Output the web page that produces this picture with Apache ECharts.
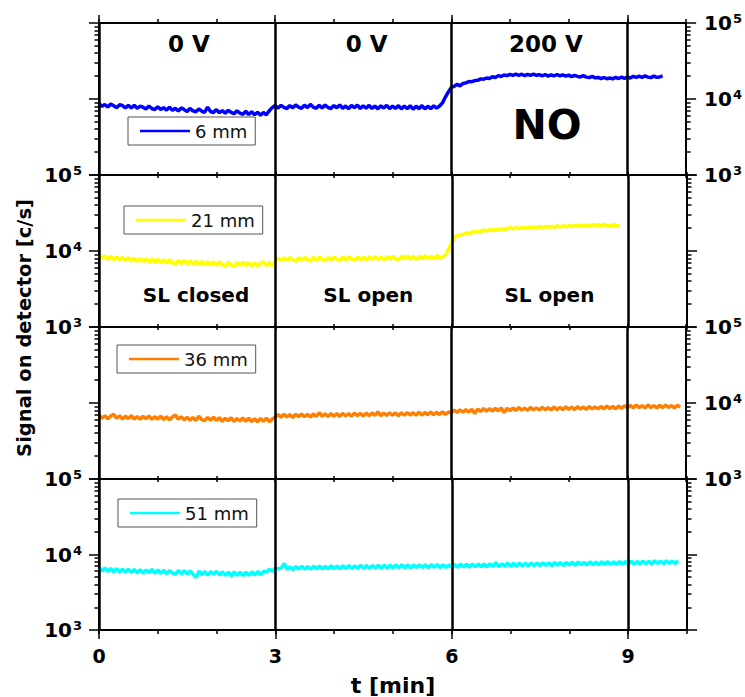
<!DOCTYPE html>
<html>
<head>
<meta charset="utf-8">
<script src="https://cdn.jsdelivr.net/npm/echarts@6/dist/echarts.min.js"></script>
<style>
  html, body { margin: 0; padding: 0; background: #fff; }
  #chart { width: 745px; height: 697px; }
</style>
</head>
<body>
<div id="chart"></div>
<script>
// Detector signal [c/s] sampled every 0.05 min, one trace per distance
const sampleStep = 0.05;

const seriesNames = ['6 mm', '21 mm', '36 mm', '51 mm'];

const signal6mm = [
  8700, 8000, 8450, 7850, 8600, 8150, 7700, 8400, 8200, 7650,
  8250, 7600, 8300, 7550, 8050, 7800, 7350, 8100, 7500, 7250,
  7900, 7300, 7700, 7150, 7800, 7100, 7550, 6950, 7650, 7250,
  6850, 7500, 7000, 6800, 7400, 6900, 6700, 7800, 6850, 6650,
  7250, 6600, 7050, 6500, 7100, 6650, 6400, 7000, 6500, 6300,
  6900, 6250, 6800, 6200, 6700, 6100, 6650, 6200, 7000, 7700,
  8200, 7600, 8250, 7750, 7500, 8200, 7650, 8350, 7800, 7550,
  8300, 7700, 8500, 7800, 7550, 8250, 7650, 8300, 7750, 7500,
  8200, 7650, 8350, 7550, 8100, 7450, 8200, 7700, 8300, 7500,
  8150, 7550, 8250, 7500, 8100, 7400, 8150, 7600, 8250, 7450,
  8100, 7500, 8200, 7400, 8100, 7450, 8150, 7350, 8050, 7450,
  8200, 7400, 8050, 7450, 8150, 7600, 8100, 8900, 10600, 12400,
  14200, 14700, 15600, 14900, 16000, 16300, 17000, 16900, 17500, 17600,
  18400, 18200, 18900, 18600, 19600, 19200, 20300, 19800, 20700, 20300,
  21100, 20400, 21300, 20500, 21200, 20300, 21100, 20400, 21300, 20500,
  20900, 20200, 21000, 20000, 20800, 20100, 21000, 20200, 20700, 20000,
  20600, 19700, 20500, 19800, 19500, 20300, 19400, 19100, 19800, 19000,
  19200, 18600, 19100, 18500, 18900, 18400, 19300, 18600, 19400, 18700,
  19400, 18900, 19900, 19200, 20000, 19300, 20100, 19400, 19100, 20000,
  19300, 19500, 20100
];

const signal21mm = [
  8900, 8100, 8600, 7800, 8500, 7700, 8350, 7650, 8250, 7500,
  8150, 7400, 8000, 7300, 8000, 7250, 7900, 7150, 7850, 7100,
  7800, 7050, 7700, 6900, 7650, 7000, 6700, 7550, 6850, 7500,
  6750, 7400, 6650, 7350, 6600, 7300, 6550, 7250, 6500, 7200,
  6450, 7200, 6550, 6350, 7150, 6500, 6300, 7100, 6450, 7150,
  6400, 7050, 6350, 7000, 6300, 6950, 7200, 6400, 7050, 6350,
  7400, 8100, 7450, 8150, 7500, 8200, 7550, 7400, 8150, 7500,
  8250, 7600, 7450, 8200, 7550, 8300, 7650, 7500, 8250, 7600,
  8350, 7700, 7500, 8300, 7650, 8400, 7750, 7550, 8350, 7700,
  8250, 7600, 8400, 7750, 8500, 7700, 8350, 7650, 8450, 7800,
  8500, 7850, 7700, 8550, 7900, 8600, 7800, 8450, 7750, 8550,
  7900, 8650, 7950, 8500, 7850, 8700, 8000, 8450, 9000, 10800,
  12900, 15200, 16000, 16300, 16600, 17500, 16900, 17900, 17800, 18100,
  18200, 18900, 18300, 19200, 18600, 19500, 18900, 19700, 19100, 19900,
  20200, 19500, 20400, 19700, 20500, 19900, 20700, 20000, 20800, 20200,
  21000, 20300, 21100, 20400, 21200, 20500, 21400, 20700, 21500, 20800,
  21700, 21000, 21800, 21100, 22000, 21200, 22100, 21400, 22300, 21500,
  22200, 21400, 22400, 21600, 21300, 22200, 21500, 21300
];

const signal36mm = [
  6900, 6300, 6800, 6200, 6750, 7100, 6300, 6800, 6150, 6700,
  6250, 6800, 6150, 6650, 6100, 6700, 6200, 6750, 6100, 6600,
  6150, 6700, 6050, 6600, 6000, 6550, 6950, 6100, 6600, 6000,
  6500, 5950, 6450, 5900, 6700, 6050, 5850, 6450, 5950, 6500,
  5900, 6400, 5750, 6300, 5850, 6400, 5700, 6250, 5800, 6350,
  5750, 6300, 5700, 6200, 5650, 6250, 5750, 6300, 5700, 6150,
  6500, 7050, 6500, 7100, 6550, 7050, 6450, 7100, 6600, 7150,
  6600, 7100, 6550, 7200, 6650, 7450, 6700, 7200, 6650, 7250,
  6700, 7250, 6650, 7300, 6750, 7250, 6700, 7350, 6800, 7300,
  6750, 7350, 6800, 7400, 6850, 7650, 6800, 7350, 6850, 7450,
  6900, 7400, 6800, 7450, 6900, 7500, 6950, 7450, 6900, 7550,
  6950, 7500, 7000, 7600, 7000, 7550, 7050, 7650, 7100, 7600,
  7450, 8050, 7500, 8150, 7550, 8200, 7600, 8250, 7300, 8300,
  7750, 8450, 7800, 8400, 7850, 8500, 7900, 8600, 7500, 8500,
  7950, 8600, 8000, 8700, 8050, 8550, 8000, 8750, 8100, 8650,
  8100, 8750, 8150, 8700, 8100, 8850, 8200, 8750, 8150, 8900,
  8250, 8800, 8200, 8950, 8300, 8850, 8250, 9000, 8350, 8900,
  8350, 9000, 8400, 9100, 8450, 9000, 8400, 9150, 8500, 9200,
  8600, 9300, 8650, 9400, 8700, 9200, 8600, 9450, 8700, 9250,
  8650, 9300, 8700, 9400, 8750, 9250, 8650, 9300, 8850
];

const signal51mm = [
  6700, 6050, 6650, 5950, 6550, 5900, 6500, 5850, 6450, 5800,
  6400, 5750, 6350, 5700, 6300, 5650, 6250, 5750, 6350, 5650,
  6250, 5600, 6200, 5550, 6150, 5650, 5500, 6150, 5550, 6100,
  5500, 6050, 5450, 4950, 6000, 5400, 5950, 5350, 5950, 5450,
  6000, 5350, 5900, 5300, 5850, 5200, 5900, 5300, 5850, 5250,
  5850, 5300, 5900, 5350, 5950, 5400, 6000, 5900, 6350, 6000,
  6600, 6450, 6650, 7600, 6350, 6900, 6300, 6950, 6400, 7000,
  6400, 6950, 6350, 7000, 6450, 7050, 6400, 7000, 6450, 7100,
  6500, 7050, 6450, 7100, 6550, 7150, 6500, 7100, 6550, 7200,
  6550, 7150, 6500, 7150, 6600, 7200, 6550, 7250, 6600, 7200,
  6600, 7250, 6650, 7300, 6650, 7250, 6600, 7300, 6700, 7350,
  6700, 7300, 6650, 7350, 6750, 7400, 6700, 7300, 6750, 7250,
  6800, 7400, 6750, 7450, 6850, 7400, 6800, 7500, 6900, 7450,
  6900, 7500, 6850, 7550, 6950, 7800, 6900, 7550, 7000, 7700,
  6950, 7650, 7000, 7700, 7050, 7650, 7000, 7750, 7100, 7700,
  7100, 7750, 7150, 7800, 7100, 7850, 7200, 7800, 7150, 7850,
  7250, 7900, 7200, 7950, 7300, 7900, 7250, 8000, 7350, 7950,
  7300, 8000, 7400, 8050, 7350, 8000, 7400, 8100, 7450, 8050,
  7500, 8150, 7450, 8100, 7500, 8200, 7550, 8150, 7500, 8250,
  7600, 8200, 7550, 8250, 7650, 8150, 7600, 8300
];

const signals = [signal6mm, signal21mm, signal36mm, signal51mm];

// Axis ticks
const xMajorTicks = [0, 3, 6, 9];
const yMajorTicks = [1e3, 1e4, 1e5];
const yMinorTicks = [2e3, 3e3, 4e3, 5e3, 6e3, 7e3, 8e3, 9e3, 2e4, 3e4, 4e4, 5e4, 6e4, 7e4, 8e4, 9e4];

// Panel annotations: panel, time (min), signal (c/s), text
const annotationPanels = [0, 0, 0, 0, 1, 1, 1];
const annotationTimes = [1.53, 4.56, 7.61, 7.63, 1.65, 4.58, 7.66];
const annotationValues = [53500, 53500, 53500, 4600, 2660, 2660, 2660];
const annotationTexts = ['0 V', '0 V', '200 V', 'NO', 'SL closed', 'SL open', 'SL open'];

// ---- styling / layout ----
const FONT = "'DejaVu Sans', 'Liberation Sans', sans-serif";
const colors = ['#0000ff', '#ffff00', '#ff8000', '#00ffff'];
const annotationSizes = [23, 23, 23, 41, 20, 20, 20];
const panelTop = 23, panelH = 152, gridLeft = 99, gridRight = 58;
const labelsLeft = [false, true, false, true];
const labelsRight = [true, false, true, false];
const legendPos = [[128, 117], [124, 206], [117, 345], [118, 499]];

const black = '#000';
const tickLine = { color: black, width: 1.5 };

function powLabel(v) {
  return '{b|10}{s|' + Math.round(Math.log10(v)) + '}';
}
const powRich = {
  b: { fontFamily: FONT, fontWeight: 'bold', fontSize: 20, color: black, lineHeight: 22 },
  s: { fontFamily: FONT, fontWeight: 'bold', fontSize: 13, color: black, lineHeight: 22, verticalAlign: 'top', padding: [0, 0, 6, 1] }
};

const grids = [], xAxes = [], yAxes = [], series = [], legends = [];

for (let i = 0; i < 4; i++) {
  grids.push({ left: gridLeft, right: gridRight, top: panelTop + i * panelH, height: panelH });

  const xBase = { type: 'value', gridIndex: i, min: 0, max: 10, splitLine: { show: false }, axisLabel: { show: false } };
  // minor ticks every minute, bottom and top frame lines
  xAxes.push(Object.assign({}, xBase, {
    position: 'bottom', interval: 1,
    axisLine: { show: true, onZero: false, lineStyle: { color: black, width: 2 } },
    axisTick: { show: true, length: i === 3 ? 4 : 3, lineStyle: tickLine }
  }));
  xAxes.push(Object.assign({}, xBase, {
    position: 'top', interval: 1,
    axisLine: { show: true, onZero: false, lineStyle: { color: black, width: 2 } },
    axisTick: { show: true, length: i === 0 ? 4 : 3, lineStyle: tickLine }
  }));
  // major ticks at 0,3,6,9 with the vertical separators
  const last = i === 3;
  xAxes.push(Object.assign({}, xBase, {
    position: 'bottom', interval: 3, z: 5,
    axisLine: { show: false, onZero: false },
    axisTick: { show: last, length: 9, customValues: xMajorTicks, lineStyle: tickLine },
    axisLabel: {
      show: last, customValues: xMajorTicks, margin: 16,
      fontFamily: FONT, fontWeight: 'bold', fontSize: 19, color: black
    },
    splitLine: { show: true, lineStyle: { color: black, width: 2.5 } },
    name: last ? 't [min]' : '', nameLocation: 'middle', nameGap: 44,
    nameTextStyle: { fontFamily: FONT, fontWeight: 'bold', fontSize: 22, color: black }
  }));
  xAxes.push(Object.assign({}, xBase, {
    position: 'top', interval: 3,
    axisLine: { show: false, onZero: false },
    axisTick: { show: i === 0, length: 8, customValues: xMajorTicks, lineStyle: tickLine }
  }));

  const yBase = { type: 'log', logBase: 10, gridIndex: i, min: 1e3, max: 1e5, splitLine: { show: false } };
  ['left', 'right'].forEach(side => {
    const withLabels = side === 'left' ? labelsLeft[i] : labelsRight[i];
    yAxes.push(Object.assign({}, yBase, {
      position: side,
      axisLine: { show: true, onZero: false, lineStyle: { color: black, width: 2 } },
      axisTick: { show: true, length: 4.5, customValues: yMinorTicks, lineStyle: tickLine },
      axisLabel: { show: false }
    }));
    yAxes.push(Object.assign({}, yBase, {
      position: side,
      axisLine: { show: false, onZero: false },
      axisTick: { show: true, length: 10, customValues: yMajorTicks, lineStyle: tickLine },
      axisLabel: {
        show: withLabels, customValues: yMajorTicks, margin: side === 'left' ? 17 : 18,
        formatter: powLabel, rich: powRich
      }
    }));
  });

  const idx = [];
  annotationTexts.forEach((t, k) => { if (annotationPanels[k] === i) idx.push(k); });

  series.push({
    name: seriesNames[i],
    type: 'line',
    xAxisIndex: i * 4,
    yAxisIndex: i * 4,
    data: signals[i].map((v, k) => [+(k * sampleStep).toFixed(2), v]),
    symbol: 'none',
    showSymbol: false,
    lineStyle: { color: colors[i], width: 3.5 },
    itemStyle: { color: colors[i] },
    animation: false,
    silent: true,
    markPoint: idx.length ? {
      symbol: 'rect', symbolSize: 1, itemStyle: { color: 'rgba(0,0,0,0)' },
      animation: false, silent: true,
      label: { show: true, position: 'inside', formatter: '{b}', color: black, fontFamily: FONT, fontWeight: 'bold' },
      data: idx.map(k => ({
        name: annotationTexts[k],
        coord: [annotationTimes[k], annotationValues[k]],
        label: { fontSize: annotationSizes[k] }
      }))
    } : undefined
  });

  legends.push({
    data: [seriesNames[i]],
    left: legendPos[i][0], top: legendPos[i][1],
    orient: 'horizontal',
    icon: 'rect',
    itemWidth: 50, itemHeight: 2.5,
    padding: [5, 8, 5, 12],
    borderColor: '#555', borderWidth: 1, borderRadius: 0,
    backgroundColor: '#fff',
    selectedMode: false,
    textStyle: { fontFamily: FONT, fontSize: 18, color: '#111', lineHeight: 18 }
  });
}

const chart = echarts.init(document.getElementById('chart'), null, { renderer: 'svg' });
chart.setOption({
  backgroundColor: '#fff',
  animation: false,
  grid: grids,
  xAxis: xAxes,
  yAxis: yAxes,
  legend: legends,
  series: series,
  graphic: [{
    type: 'text',
    x: 24, y: 328,
    rotation: Math.PI / 2,
    style: {
      text: 'Signal on detector [c/s]',
      fill: black,
      font: "bold 19.5px 'DejaVu Sans', sans-serif",
      align: 'center', verticalAlign: 'middle'
    }
  }]
});
</script>
</body>
</html>
